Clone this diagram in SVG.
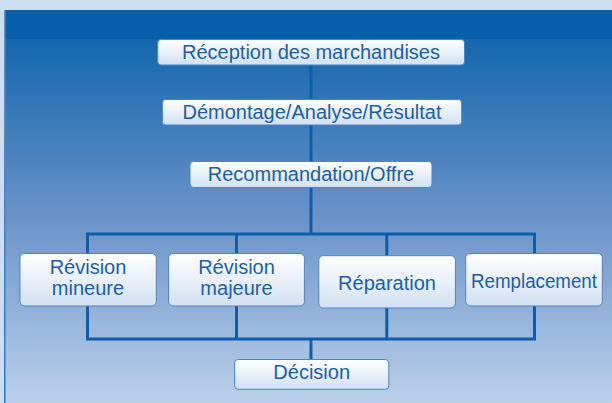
<svg xmlns="http://www.w3.org/2000/svg" width="612" height="403" viewBox="0 0 612 403">
<defs>
<linearGradient id="bg" x1="0" y1="39" x2="0" y2="403" gradientUnits="userSpaceOnUse">
<stop offset="0" stop-color="#1367ae"/>
<stop offset="0.5" stop-color="#6c94c9"/>
<stop offset="1" stop-color="#bbd0ea"/>
</linearGradient>
<linearGradient id="edge" x1="0" y1="10" x2="0" y2="403" gradientUnits="userSpaceOnUse">
<stop offset="0" stop-color="#5e92c8"/>
<stop offset="1" stop-color="#2a76c4"/>
</linearGradient>
<linearGradient id="box" x1="0" y1="0" x2="0" y2="1">
<stop offset="0" stop-color="#ffffff"/>
<stop offset="1" stop-color="#d2e0f1"/>
</linearGradient>
<style>
.bx{fill:url(#box);stroke:#4a85c3;stroke-width:1}
.t{font-family:"Liberation Sans",Arial,Helvetica,sans-serif;font-size:20px;fill:#1c5fa6;text-anchor:middle}
.c{fill:none;stroke:#0d5eaa;stroke-width:3;stroke-linejoin:miter;stroke-linecap:butt}
</style>
</defs>
<rect x="0" y="0" width="612" height="403" fill="#cddef0"/>
<rect x="4" y="10" width="608" height="393" fill="url(#bg)"/>
<rect x="4" y="10" width="608" height="29" fill="#0760a9"/>
<rect x="4" y="10" width="1.5" height="393" fill="url(#edge)"/>
<g id="connectors">
<path class="c" d="M311 65 V234"/>
<path class="c" d="M87.5 253.5 V234 H534.5 V253.5"/>
<path class="c" d="M236.5 234 V253.5"/>
<path class="c" d="M386.8 234 V255.5"/>
<path class="c" d="M87.5 306 V339 H534.5 V306"/>
<path class="c" d="M236.5 306 V339"/>
<path class="c" d="M386.8 308 V339"/>
<path class="c" d="M311 339 V359.5"/>
</g>
<g id="reception">
<rect class="bx" x="157.7" y="39.5" width="306.8" height="25.5" rx="3.5"/>
<text class="t" x="311" y="59.3">Réception des marchandises</text>
</g>
<g id="demontage">
<rect class="bx" x="162.4" y="99.5" width="299.3" height="25.5" rx="3.5"/>
<text class="t" x="312" y="118.8">Démontage/Analyse/Résultat</text>
</g>
<g id="recommandation">
<rect class="bx" x="190" y="161.5" width="242" height="26" rx="3.5"/>
<text class="t" x="311" y="181">Recommandation/Offre</text>
</g>
<g id="revision-mineure">
<rect class="bx" x="20" y="253.5" width="136.3" height="52.5" rx="4.5"/>
<text class="t" x="88" y="274.3">Révision</text>
<text class="t" x="88" y="295">mineure</text>
</g>
<g id="revision-majeure">
<rect class="bx" x="168.6" y="253.5" width="135.8" height="52.5" rx="4.5"/>
<text class="t" x="236.5" y="274.3">Révision</text>
<text class="t" x="236.5" y="295">majeure</text>
</g>
<g id="reparation">
<rect class="bx" x="318.8" y="255.7" width="136.6" height="52.3" rx="4.5"/>
<text class="t" x="387" y="290" font-size="19.6">Réparation</text>
</g>
<g id="remplacement">
<rect class="bx" x="465.7" y="253.5" width="136.6" height="52.5" rx="4.5"/>
<text class="t" x="534" y="287.7" textLength="126" lengthAdjust="spacingAndGlyphs">Remplacement</text>
</g>
<g id="decision">
<rect class="bx" x="234.6" y="359.5" width="154.2" height="29.8" rx="3.5"/>
<text class="t" x="311.7" y="379.3">Décision</text>
</g>
</svg>
